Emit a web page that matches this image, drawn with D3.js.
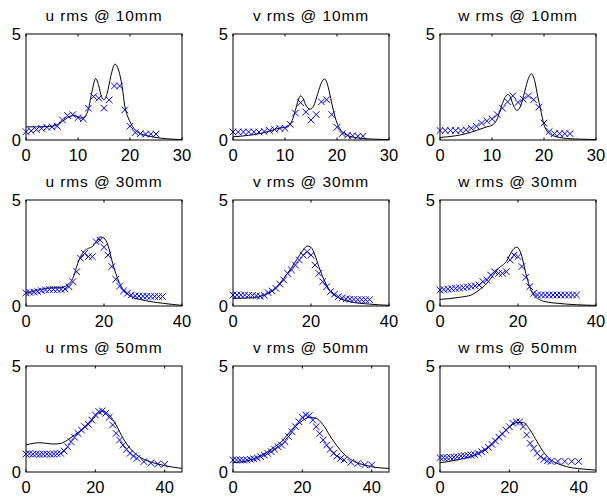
<!DOCTYPE html>
<html>
<head>
<meta charset="utf-8">
<script src="https://cdn.jsdelivr.net/npm/d3@7"></script>
<style>
  body { margin: 0; background: #fff; }
  text { font-family: "Liberation Sans", Arial, Helvetica, sans-serif; fill: #000; }
</style>
</head>
<body>
<div class="chart"></div>
<script>
// marker x positions (mm) for each station
const markX10 = [0,1,2,3,4,5,6,7,8,9,10,11,12,13,14,15,16,17,18,19,20,21,22,23,24,25];
const markX30 = [0,1,2,3,4,5,6,7,8,9,10,11,12,13,14,15,16,17,18,19,20,21,22,23,24,25,26,27,28,29,30,31,32,33,34,35];
const markX50 = [0,1,2,3,4,5,6,7,8,9,10,11,12,13,14,15,16,17,18,19,20,21,22,23,24,25,26,27,28,29,30,31,32,34,36,38,40];

// measured rms (markers)
const uMark10 = [0.39,0.43,0.49,0.55,0.6,0.62,0.65,0.95,1.15,1.2,1.05,1.0,1.5,2.05,1.97,1.5,1.89,2.55,2.55,1.42,0.65,0.35,0.3,0.28,0.28,0.28];
const vMark10 = [0.38,0.38,0.38,0.38,0.38,0.38,0.4,0.45,0.5,0.55,0.55,0.74,1.27,1.76,1.32,0.94,1.2,1.8,1.9,1.2,0.6,0.3,0.22,0.2,0.18,0.18];
const wMark10 = [0.45,0.45,0.45,0.45,0.45,0.48,0.55,0.65,0.8,0.9,1.0,1.2,1.5,1.8,2.08,1.77,1.93,2.08,1.9,1.55,0.8,0.4,0.3,0.3,0.3,0.3];

const uMark30 = [0.62,0.64,0.66,0.68,0.72,0.76,0.78,0.78,0.78,0.78,0.8,0.91,1.15,1.62,2.25,2.48,2.33,2.33,3.03,3.11,2.77,2.4,1.86,1.26,0.94,0.71,0.6,0.52,0.48,0.47,0.46,0.46,0.45,0.45,0.45,0.45];
const vMark30 = [0.52,0.52,0.52,0.52,0.5,0.5,0.48,0.46,0.5,0.63,0.71,0.83,1.04,1.23,1.54,1.7,1.93,2.17,2.4,2.56,2.4,1.93,1.54,1.15,0.91,0.68,0.55,0.44,0.38,0.34,0.32,0.31,0.3,0.3,0.3,0.3];
const wMark30 = [0.75,0.78,0.8,0.82,0.83,0.85,0.87,0.9,0.92,0.95,0.99,1.15,1.23,1.46,1.62,1.54,1.54,1.62,2.17,2.4,2.33,1.86,1.35,0.91,0.6,0.52,0.52,0.52,0.52,0.52,0.52,0.52,0.52,0.52,0.52,0.52];

const uMark50 = [0.85,0.86,0.84,0.85,0.83,0.84,0.85,0.84,0.85,0.86,0.88,0.99,1.19,1.43,1.64,1.82,1.98,2.14,2.25,2.45,2.69,2.85,2.88,2.77,2.58,2.22,1.82,1.51,1.27,1.07,0.88,0.75,0.64,0.49,0.42,0.38,0.36];
const vMark50 = [0.57,0.57,0.57,0.56,0.57,0.6,0.62,0.66,0.72,0.8,0.88,0.96,1.07,1.19,1.27,1.43,1.67,1.9,2.14,2.37,2.58,2.69,2.66,2.45,2.14,1.82,1.51,1.27,1.07,0.88,0.75,0.64,0.57,0.46,0.4,0.34,0.33];
const wMark50 = [0.68,0.68,0.68,0.69,0.7,0.72,0.75,0.77,0.79,0.8,0.82,0.88,0.96,1.04,1.16,1.3,1.46,1.64,1.79,1.98,2.14,2.3,2.37,2.37,2.14,1.75,1.35,1.12,0.88,0.72,0.6,0.53,0.5,0.5,0.5,0.5,0.5];

// simulated rms (lines), [x, value]
const uLine10 = [[0,0.62],[2,0.62],[4,0.63],[5,0.65],[6,0.72],[7,0.88],[8,1.05],[9,1.15],[10,1.1],[10.5,1.03],[11,1.05],[12,1.45],[12.7,2.3],[13.4,2.9],[14,2.55],[14.5,2.05],[15,1.9],[15.6,2.2],[16.3,3.0],[17.1,3.58],[17.8,3.3],[18.5,2.5],[19,1.6],[19.5,1.15],[20,0.86],[21,0.47],[22,0.3],[23,0.22],[25,0.12],[27,0.06],[30,0.02]];
const vLine10 = [[0,0.15],[3,0.22],[5,0.3],[7,0.42],[8,0.5],[9,0.56],[10,0.6],[10.5,0.63],[11,0.75],[11.5,1.0],[12,1.4],[12.5,1.85],[13,2.08],[13.5,1.95],[14,1.65],[14.8,1.45],[15.5,1.6],[16.3,2.2],[17,2.7],[17.6,2.88],[18.2,2.6],[18.8,1.95],[19.3,1.4],[20,0.8],[20.5,0.55],[21,0.38],[22,0.22],[23,0.14],[25,0.07],[27,0.04],[30,0.02]];
const wLine10 = [[0,0.12],[3,0.2],[5,0.3],[7,0.45],[9,0.62],[10,0.7],[10.5,0.8],[11,1.0],[11.5,1.35],[12,1.72],[12.5,2.0],[13,2.15],[13.5,2.05],[14,1.7],[14.8,1.4],[15.5,1.6],[16.3,2.3],[17,2.9],[17.6,3.12],[18.2,2.8],[18.8,2.05],[19.3,1.5],[20,0.72],[20.5,0.45],[21,0.3],[22,0.18],[23,0.12],[25,0.06],[27,0.04],[30,0.02]];

const uLine30 = [[0,0.6],[2,0.7],[5,0.83],[7,0.86],[9,0.86],[10,0.92],[11,1.05],[12,1.3],[13,1.86],[14,2.33],[15,2.6],[16,2.72],[17,2.8],[18,3.03],[19,3.26],[20,3.2],[21,2.88],[22,2.17],[23,1.54],[24,1.07],[25,0.75],[27,0.44],[30,0.28],[35,0.13],[40,0.03]];
const vLine30 = [[0,0.36],[5,0.39],[8,0.52],[10,0.71],[12,1.07],[14,1.54],[16,2.09],[18,2.64],[19,2.83],[20,2.77],[21,2.4],[22,1.86],[23,1.38],[24,0.99],[25,0.68],[27,0.39],[30,0.2],[35,0.09],[40,0.03]];
const wLine30 = [[0,0.31],[5,0.41],[8,0.52],[10,0.75],[12,1.07],[14,1.54],[15,1.78],[16,1.92],[17,2.1],[18,2.44],[19,2.72],[19.7,2.78],[20.5,2.6],[21,2.33],[22,1.54],[23,0.91],[24,0.52],[25,0.36],[27,0.2],[30,0.13],[35,0.06],[40,0.03]];

const uLine50 = [[0,1.27],[2,1.35],[4,1.38],[6,1.35],[8,1.32],[10,1.35],[12,1.51],[14,1.75],[16,1.98],[18,2.3],[20,2.64],[22,2.88],[24,2.69],[26,2.22],[28,1.59],[30,1.12],[32,0.8],[35,0.53],[38,0.38],[40,0.3],[45,0.17]];
const vLine50 = [[0,0.44],[5,0.57],[10,0.96],[12,1.19],[14,1.43],[16,1.82],[18,2.17],[20,2.42],[22,2.58],[24,2.53],[26,2.22],[28,1.7],[30,1.23],[32,0.85],[35,0.49],[38,0.33],[40,0.25],[45,0.17]];
const wLine50 = [[0,0.44],[5,0.57],[10,0.8],[12,0.96],[14,1.19],[16,1.51],[18,1.82],[20,2.11],[22,2.33],[24,2.33],[26,1.98],[28,1.43],[30,0.91],[32,0.57],[35,0.33],[38,0.2],[40,0.16],[45,0.09]];

const components = ["u", "v", "w"];
const stations = [10, 30, 50];
const xMaxes = [30, 40, 45];
const xTickVals = [[0,10,20,30], [0,20,40], [0,20,40]];
const yTickVals = [0, 5];

const lines = [[uLine10, vLine10, wLine10], [uLine30, vLine30, wLine30], [uLine50, vLine50, wLine50]];
const marks = [[uMark10, vMark10, wMark10], [uMark30, vMark30, wMark30], [uMark50, vMark50, wMark50]];
const markXs = [markX10, markX30, markX50];

// layout
const W = 607, H = 497;
const colLeft = [26, 233, 440];
const rowTop = [34, 200, 366];
const pw = 156, ph = 106;
const tick = 2.5, xs = 3.3;

let svg = d3.select('.chart').append('svg').attr('width', W).attr('height', H);

for (let r = 0; r < 3; r++) {
    for (let c = 0; c < 3; c++) {
        let g = svg.append('g').attr('transform', 'translate(' + colLeft[c] + ',' + rowTop[r] + ')');
        let x = d3.scaleLinear().domain([0, xMaxes[r]]).range([0, pw]);
        let y = d3.scaleLinear().domain([0, 5]).range([ph, 0]);

        // simulation line
        let line = d3.line().x(d => x(d[0])).y(d => y(d[1])).curve(d3.curveMonotoneX);
        g.append('path').datum(lines[r][c]).attr('d', line)
            .attr('fill', 'none').attr('stroke', '#000').attr('stroke-width', 1);

        // measurement markers
        let pts = markXs[r].map((v, i) => [v, marks[r][c][i]]);
        g.selectAll('path.mk').data(pts).enter().append('path').attr('class', 'mk')
            .attr('d', d => {
                let px = x(d[0]), py = y(d[1]);
                return 'M' + (px - xs) + ',' + (py - xs) + 'L' + (px + xs) + ',' + (py + xs) +
                    'M' + (px - xs) + ',' + (py + xs) + 'L' + (px + xs) + ',' + (py - xs);
            })
            .attr('stroke', '#0000ff').attr('stroke-width', 1).attr('fill', 'none');

        // box
        g.append('rect').attr('x', 0).attr('y', 0).attr('width', pw).attr('height', ph)
            .attr('fill', 'none').attr('stroke', '#000').attr('stroke-width', 1);

        // inward ticks top & bottom
        xTickVals[r].forEach(t => {
            g.append('line').attr('x1', x(t)).attr('x2', x(t)).attr('y1', ph).attr('y2', ph - tick)
                .attr('stroke', '#000');
            g.append('line').attr('x1', x(t)).attr('x2', x(t)).attr('y1', 0).attr('y2', tick)
                .attr('stroke', '#000');
        });

        g.selectAll('text.xt').data(xTickVals[r]).enter().append('text').attr('class', 'xt')
            .attr('x', d => x(d)).attr('y', ph + 21).attr('text-anchor', 'middle')
            .style('font-size', '16.5px').text(d => d);

        g.selectAll('text.yt').data(yTickVals).enter().append('text').attr('class', 'yt')
            .attr('x', -5).attr('y', d => y(d) + 6).attr('text-anchor', 'end')
            .style('font-size', '16.5px').text(d => d);

        g.append('text').attr('x', pw / 2).attr('y', -13.5).attr('text-anchor', 'middle')
            .style('font-size', '15.5px').style('letter-spacing', '0.9px')
            .text(components[c] + ' rms @ ' + stations[r] + 'mm');
    }
}
</script>
</body>
</html>
